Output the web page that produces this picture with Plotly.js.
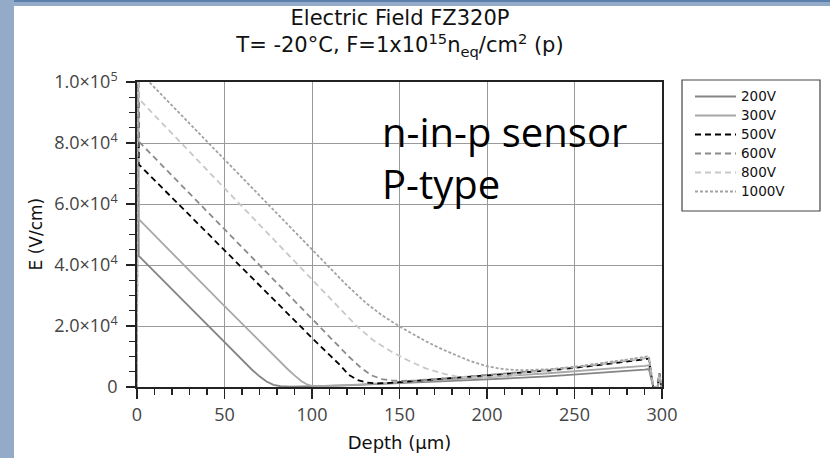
<!DOCTYPE html>
<html>
<head>
<meta charset="utf-8">
<script src="https://cdn.plot.ly/plotly-3.0.1.min.js"></script>
<style>
html,body{margin:0;padding:0;background:#fff;}
#wrap{position:relative;width:830px;height:458px;overflow:hidden;}
#plot{position:absolute;left:0;top:0;width:830px;height:458px;}
.strip{position:absolute;pointer-events:none;}
</style>
</head>
<body>
<div id="wrap">
<div id="plot"></div>
<div class="strip" style="left:0;top:0;width:830px;height:6px;background:#93abc8;"></div>
<div class="strip" style="left:0;top:0;width:830px;height:2px;background:#5b80ad;"></div>
<div class="strip" style="left:0;top:0;width:14px;height:458px;background:#93abc8;"></div>
</div>
<script>
// ---- data (depth in µm, field in V/cm) ----
const seriesNames = ["200V", "300V", "500V", "600V", "800V", "1000V"];

const depth200 = [0, 0.4, 1, 10, 20, 30, 40, 50, 60, 66, 70, 74, 78, 82, 88, 95, 100, 120, 150, 175, 200, 235, 260, 280, 290, 292.5, 295, 297.5, 298.5, 299.5, 300];
const field200 = [0, 150000, 43000, 37800, 32000, 26200, 20400, 14600, 8900, 5500, 3500, 1800, 700, 250, 120, 150, 250, 550, 1200, 1800, 2500, 3500, 4400, 5200, 5700, 5900, 0, 0, 4500, 0, 0];

const depth300 = [0, 0.4, 1, 10, 20, 30, 40, 50, 60, 70, 80, 86, 90, 94, 97, 100, 104, 110, 120, 150, 175, 200, 235, 260, 280, 290, 292.5, 295, 297.5, 298.5, 299.5, 300];
const field300 = [0, 150000, 55000, 49700, 43900, 38100, 32300, 26500, 20700, 14900, 9200, 5900, 3800, 1900, 900, 400, 250, 350, 600, 1500, 2300, 3200, 4500, 5500, 6400, 6900, 7100, 0, 0, 4500, 0, 0];

const depth500 = [0, 0.4, 1, 10, 20, 40, 60, 80, 100, 110, 116, 121, 126, 131, 136, 142, 150, 165, 180, 200, 235, 260, 280, 290, 292.5, 295, 297.5, 298.5, 299.5, 300];
const field500 = [0, 150000, 73000, 67800, 62100, 50600, 39100, 27600, 16100, 10500, 7200, 4000, 2300, 1500, 1200, 1250, 1600, 2300, 3000, 3800, 5400, 6900, 8300, 9100, 9300, 0, 0, 4500, 0, 0];

const depth600 = [0, 0.4, 1, 10, 20, 40, 60, 80, 100, 115, 121, 128, 134, 140, 146, 152, 160, 180, 200, 235, 260, 280, 290, 292.5, 295, 297.5, 298.5, 299.5, 300];
const field600 = [0, 150000, 80500, 75200, 69300, 57500, 45800, 34000, 22300, 13500, 10000, 6300, 3800, 2600, 2100, 2000, 2200, 3000, 3900, 5600, 7100, 8600, 9400, 9600, 0, 0, 4500, 0, 0];

const depth800 = [0, 0.4, 1, 20, 40, 60, 80, 100, 115, 125, 135, 145, 155, 165, 175, 183, 190, 200, 215, 235, 260, 280, 290, 292.5, 295, 297.5, 298.5, 299.5, 300];
const field800 = [0, 150000, 94500, 83100, 71100, 59100, 47100, 35100, 26200, 20300, 15300, 11700, 8700, 6100, 4400, 3400, 3100, 3200, 3900, 5400, 7200, 8800, 9600, 9800, 0, 0, 4500, 0, 0];

const depth1000 = [0, 0.4, 1, 20, 40, 60, 80, 100, 120, 131, 140, 151, 165, 175, 190, 200, 210, 220, 235, 250, 265, 280, 290, 292.5, 295, 297.5, 298.5, 299.5, 300];
const field1000 = [0, 150000, 103500, 92300, 80500, 68700, 56900, 45100, 33300, 27500, 23500, 19500, 15000, 12200, 8600, 6800, 5800, 5500, 5800, 6600, 7700, 9000, 9900, 10100, 0, 0, 4500, 0, 0];

const yTickVals = [0, 20000, 40000, 60000, 80000, 100000];
const yTickText = ["0", "2.0×10<sup>4</sup>", "4.0×10<sup>4</sup>", "6.0×10<sup>4</sup>", "8.0×10<sup>4</sup>", "1.0×10<sup>5</sup>"];

// ---- styles ----
const depths = [depth200, depth300, depth500, depth600, depth800, depth1000];
const fields = [field200, field300, field500, field600, field800, field1000];
const colors = ["#858585", "#a8a8a8", "#000000", "#8a8a8a", "#c8c8c8", "#a2a2a2"];
const dashes = ["solid", "solid", "6px,4px", "6px,4px", "6px,4px", "3px,2px"];

const traces = seriesNames.map((n, i) => ({
  x: depths[i], y: fields[i], type: "scatter", mode: "lines",
  name: '<span style="font-size:13.5px">' + n + '</span>',
  line: {color: colors[i], width: 1.8, dash: dashes[i]}
}));

const tickFont = {family: "Open Sans, sans-serif", size: 18, color: "#444"};
const plotW = 830 - 137 - 168, plotH = 458 - 82 - 71;

const layout = {
  width: 830, height: 458,
  margin: {l: 137, r: 168, t: 82, b: 71},
  paper_bgcolor: "#fff", plot_bgcolor: "#fff",
  title: {
    text: "Electric Field FZ320P<br>T= -20°C, F=1x10<sup>15</sup>n<sub>eq</sub>/cm<sup>2</sup> (p)",
    font: {family: "DejaVu Sans, sans-serif", size: 21, color: "#111"},
    x: (400 - 137) / plotW, xref: "paper", xanchor: "center", y: 0.945, yanchor: "middle"
  },
  xaxis: {
    range: [0, 300], dtick: 50, tick0: 0,
    ticks: "outside", ticklen: 10, tickwidth: 1.3, tickcolor: "#222",
    minor: {dtick: 10, tick0: 0, ticks: "outside", ticklen: 6, tickwidth: 1.2, tickcolor: "#222", showgrid: false},
    showgrid: true, gridcolor: "#9a9a9a", gridwidth: 1,
    showline: true, linecolor: "#222", linewidth: 1.8, mirror: true,
    zeroline: false, tickfont: tickFont, ticklabelstandoff: 1,
    title: {text: "Depth (μm)", font: {family: "DejaVu Sans, sans-serif", size: 18, color: "#111"}, standoff: 11}
  },
  yaxis: {
    range: [0, 100000], tickmode: "array", tickvals: yTickVals, ticktext: yTickText,
    ticks: "outside", ticklen: 9, tickwidth: 1.3, tickcolor: "#222",
    minor: {dtick: 5000, tick0: 0, ticks: "outside", ticklen: 6, tickwidth: 1.2, tickcolor: "#222", showgrid: false},
    showgrid: true, gridcolor: "#9a9a9a", gridwidth: 1,
    showline: true, linecolor: "#222", linewidth: 1.8, mirror: true,
    zeroline: false, tickfont: tickFont, ticklabelstandoff: 5
  },
  showlegend: true,
  legend: {
    x: (690 - 137) / plotW, xanchor: "left", y: 1.0, yanchor: "top",
    bgcolor: "rgba(0,0,0,0)", borderwidth: 0,
    font: {family: "DejaVu Sans, sans-serif", size: 10.8, color: "#111"},
    itemwidth: 41, tracegroupgap: 0
  },
  shapes: [{
    type: "rect", xref: "paper", yref: "paper",
    x0: (682 - 137) / plotW, x1: (820 - 137) / plotW,
    y0: (387 - 211) / plotH, y1: (387 - 80) / plotH,
    line: {color: "#444", width: 1.2}, fillcolor: "rgba(0,0,0,0)", layer: "above"
  }],
  annotations: [
    {text: "n-in-p sensor<br>P-type", xref: "x", yref: "y", x: 139, y: 75400,
     xanchor: "left", yanchor: "middle", align: "left", showarrow: false,
     font: {family: "Open Sans, sans-serif", size: 40, color: "#000"}},
    {text: "E (V/cm)", xref: "paper", yref: "paper", x: (35 - 137) / plotW, y: 0.5,
     xanchor: "center", yanchor: "middle", textangle: -90, showarrow: false,
     font: {family: "DejaVu Sans, sans-serif", size: 17, color: "#111"}}
  ]
};

Plotly.newPlot("plot", traces, layout, {displayModeBar: false, staticPlot: true});
</script>
</body>
</html>
